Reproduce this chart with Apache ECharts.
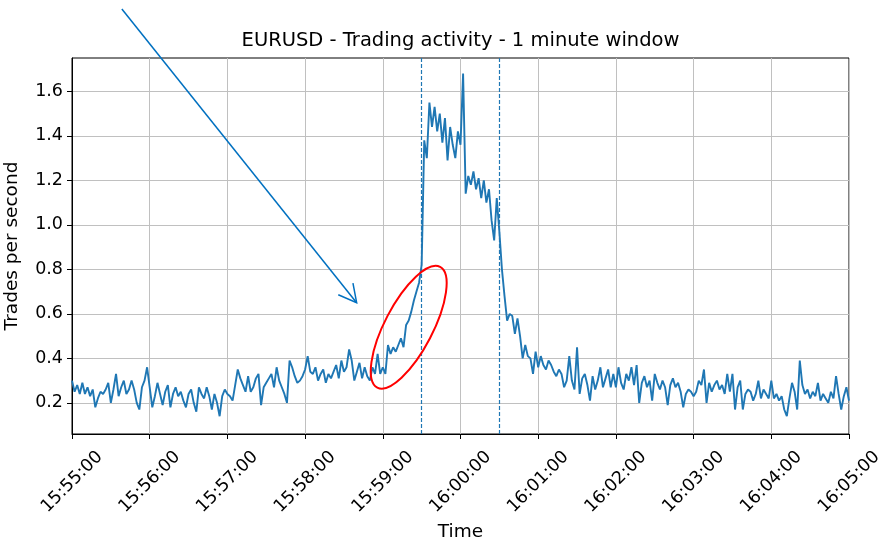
<!DOCTYPE html>
<html>
<head>
<meta charset="utf-8">
<script src="https://cdn.jsdelivr.net/npm/echarts@6/dist/echarts.min.js"></script>
<style>
html,body{margin:0;padding:0;background:#fff;}
#chart{width:883px;height:544px;}
</style>
</head>
<body>
<div id="chart"></div>
<script>
// tick labels
var timeLabels = ['15:55:00','15:56:00','15:57:00','15:58:00','15:59:00','16:00:00',
                  '16:01:00','16:02:00','16:03:00','16:04:00','16:05:00'];
var yTicks = [0.2, 0.4, 0.6, 0.8, 1.0, 1.2, 1.4, 1.6];

// trades per second, one value every 2 seconds, one array per minute
var m1555 = [0.30,0.25,0.28,0.24,0.29,0.24,0.27,0.23,0.26,0.18,0.22,0.25,0.24,0.26,0.29,0.20,0.26,0.33,0.23,0.27,0.30,0.24,0.26,0.30,0.26,0.20,0.17,0.27,0.30,0.36];
var m1556 = [0.27,0.18,0.23,0.29,0.24,0.19,0.25,0.28,0.18,0.24,0.27,0.23,0.25,0.21,0.18,0.24,0.26,0.20,0.16,0.27,0.24,0.22,0.27,0.23,0.17,0.24,0.20,0.14,0.23,0.26];
var m1557 = [0.24,0.23,0.21,0.28,0.35,0.31,0.28,0.25,0.32,0.25,0.27,0.31,0.33,0.19,0.27,0.29,0.31,0.33,0.27,0.36,0.30,0.27,0.24,0.20,0.39,0.36,0.32,0.29,0.30,0.32];
var m1558 = [0.35,0.41,0.34,0.33,0.36,0.30,0.33,0.35,0.29,0.33,0.31,0.34,0.37,0.31,0.39,0.34,0.36,0.44,0.39,0.30,0.34,0.38,0.31,0.36,0.32,0.30,0.36,0.33,0.42,0.33];
var m1559 = [0.36,0.33,0.46,0.42,0.45,0.43,0.46,0.49,0.45,0.55,0.57,0.61,0.66,0.70,0.74,0.82,1.38,1.30,1.55,1.44,1.53,1.42,1.50,1.37,1.48,1.29,1.44,1.36,1.30,1.42];
var m1600 = [1.36,1.68,1.14,1.22,1.18,1.24,1.16,1.21,1.12,1.20,1.10,1.16,1.02,0.93,1.12,0.97,0.80,0.68,0.57,0.60,0.59,0.51,0.58,0.50,0.40,0.46,0.41,0.40,0.33,0.43];
var m1601 = [0.36,0.41,0.37,0.35,0.39,0.37,0.34,0.32,0.35,0.33,0.27,0.30,0.41,0.30,0.26,0.45,0.24,0.31,0.33,0.28,0.21,0.32,0.26,0.30,0.36,0.27,0.31,0.35,0.27,0.33];
var m1602 = [0.27,0.36,0.29,0.26,0.33,0.30,0.36,0.28,0.37,0.20,0.29,0.32,0.27,0.30,0.21,0.33,0.29,0.26,0.30,0.27,0.19,0.28,0.31,0.27,0.29,0.25,0.18,0.24,0.26,0.25];
var m1603 = [0.23,0.25,0.30,0.28,0.35,0.20,0.29,0.25,0.28,0.30,0.26,0.28,0.24,0.33,0.25,0.33,0.17,0.27,0.30,0.17,0.24,0.26,0.25,0.21,0.24,0.30,0.22,0.26,0.24,0.22];
var m1604 = [0.30,0.22,0.24,0.21,0.23,0.17,0.14,0.22,0.29,0.25,0.17,0.39,0.28,0.24,0.26,0.22,0.25,0.23,0.29,0.21,0.24,0.22,0.20,0.25,0.22,0.32,0.24,0.17,0.23,0.27,0.21];

var step = 2;                 // seconds between samples
var windowMarks = [270, 330]; // 15:59:30 and 16:00:30, seconds after 15:55:00

// annotations, in data coords (seconds, trades/s)
var arrowFrom = [38.5, 1.97];
var arrowTo = [219.8, 0.65];
var ellipseAt = [260, 0.54];

var values = [].concat(m1555, m1556, m1557, m1558, m1559, m1600, m1601, m1602, m1603, m1604);
var points = values.map(function(v, i){ return [i * step, v]; });

var chart = echarts.init(document.getElementById('chart'));
var font = 'DejaVu Sans';
var blue = '#1f77b4';

chart.setOption({
    animation: false,
    backgroundColor: '#fff',
    textStyle: {fontFamily: font},
    title: {
        text: 'EURUSD - Trading activity - 1 minute window',
        left: 460.5,
        top: 31,
        padding: 0,
        textAlign: 'center',
        textStyle: {fontFamily: font, fontSize: 19.5, fontWeight: 'normal', color: '#000'}
    },
    grid: {
        left: 72, right: 34, top: 58, bottom: 110,
        show: true, borderColor: '#000', borderWidth: 1,
        outerBoundsMode: 'none'
    },
    xAxis: {
        type: 'value',
        min: 0, max: 600, interval: 60,
        name: 'Time',
        nameLocation: 'middle',
        nameGap: 86,
        nameTextStyle: {fontFamily: font, fontSize: 18.5, color: '#000'},
        axisLine: {lineStyle: {color: '#000', width: 1}},
        axisTick: {show: true, length: 5, lineStyle: {color: '#000'}},
        axisLabel: {
            rotate: 45, align: 'center', verticalAlign: 'middle', margin: 48,
            fontFamily: font, fontSize: 17.5, color: '#000',
            formatter: function(v){ return timeLabels[Math.round(v / 60)]; }
        },
        splitLine: {show: true, lineStyle: {color: '#c0c0c0', width: 1}}
    },
    yAxis: {
        type: 'value',
        min: 0.06, max: 1.75,
        name: 'Trades per second',
        nameLocation: 'middle',
        nameRotate: 90,
        nameGap: 50,
        nameTextStyle: {fontFamily: font, fontSize: 18.5, color: '#000'},
        axisLine: {show: true, lineStyle: {color: '#000', width: 1}},
        axisTick: {show: true, length: 5, customValues: yTicks, lineStyle: {color: '#000'}},
        axisLabel: {
            customValues: yTicks, margin: 9,
            fontFamily: font, fontSize: 17.5, color: '#000',
            formatter: function(v){ return v.toFixed(1); }
        },
        splitLine: {show: true, lineStyle: {color: '#c0c0c0', width: 1}}
    },
    series: [{
        type: 'line',
        data: points,
        showSymbol: false,
        color: blue,
        lineStyle: {color: blue, width: 1.9},
        markLine: {
            silent: true,
            symbol: 'none',
            label: {show: false},
            itemStyle: {color: blue},
            lineStyle: {color: blue, type: [4, 2], width: 1.2, opacity: 1},
            emphasis: {disabled: true},
            data: windowMarks.map(function(t){
                return {xAxis: t, lineStyle: {color: blue, type: [4, 2], width: 1.2}};
            })
        }
    }]
});

// arrow + ellipse placed from data coords
var a = chart.convertToPixel({gridIndex: 0}, arrowFrom);
var b = chart.convertToPixel({gridIndex: 0}, arrowTo);
var c = chart.convertToPixel({gridIndex: 0}, ellipseAt);
var ang = Math.atan2(a[1] - b[1], a[0] - b[0]);
var headLen = 20, headAng = 28 * Math.PI / 180;
var w1 = [b[0] + headLen * Math.cos(ang + headAng), b[1] + headLen * Math.sin(ang + headAng)];
var w2 = [b[0] + headLen * Math.cos(ang - headAng), b[1] + headLen * Math.sin(ang - headAng)];

chart.setOption({
    graphic: [
        {type: 'polyline', z: 100, shape: {points: [a, b]},
         style: {stroke: '#0070c0', lineWidth: 1.5, fill: null}},
        {type: 'polyline', z: 100, shape: {points: [w1, b, w2]},
         style: {stroke: '#0070c0', lineWidth: 1.5, fill: null}},
        {type: 'ellipse', z: 100, x: c[0], y: c[1], rotation: 62.5 * Math.PI / 180,
         shape: {cx: 0, cy: 0, rx: 68, ry: 24},
         style: {stroke: '#ff0000', lineWidth: 2, fill: null}}
    ]
});
</script>
</body>
</html>
